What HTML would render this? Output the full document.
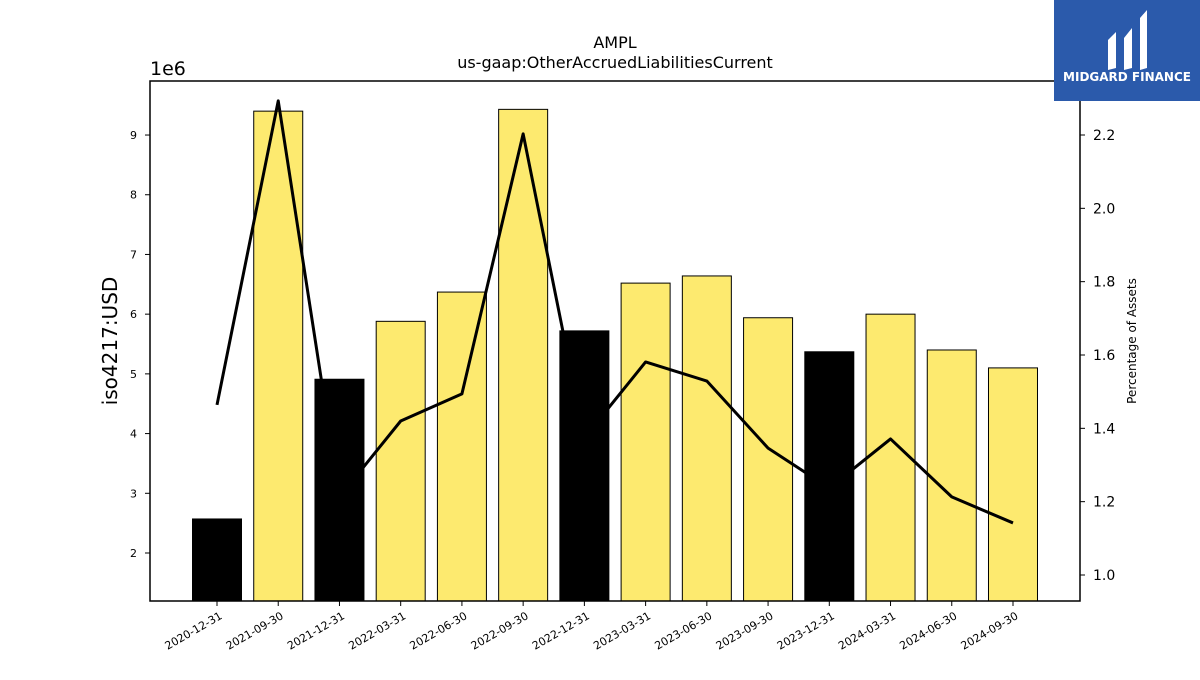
<!DOCTYPE html>
<html><head><meta charset="utf-8"><style>
body{margin:0;background:#fff;font-family:"Liberation Sans","DejaVu Sans",sans-serif}
svg text{font-family:"DejaVu Sans","Liberation Sans",sans-serif}
</style></head><body>
<svg id="chart" width="1200" height="675" viewBox="0 0 1200 675" xmlns="http://www.w3.org/2000/svg">
<rect width="1200" height="675" fill="#fff"/>
<text x="615" y="48" text-anchor="middle" font-size="16">AMPL</text>
<text x="615" y="68" text-anchor="middle" font-size="16">us-gaap:OtherAccruedLiabilitiesCurrent</text>
<text x="150" y="75" font-size="19">1e6</text>
<text transform="translate(117,341) rotate(-90)" text-anchor="middle" font-size="20">iso4217:USD</text>
<text transform="translate(1136,341) rotate(-90)" text-anchor="middle" font-size="12">Percentage of Assets</text>
<g id="bars"></g><g id="line"></g><g id="axes"></g>
<rect x="150" y="81" width="930" height="520" fill="none" stroke="#000" stroke-width="1.5"/>
<g>
<rect x="1054" y="0" width="146" height="101" fill="#2b5aab"/>
<path d="M1108 40 L1116 32 L1116 68 L1108 70 Z M1124 38 L1132 28 L1132 68 L1124 70 Z M1140 18 L1147 10 L1147 68 L1140 70 Z" fill="#fff"/>
<text x="1127" y="81" text-anchor="middle" font-size="12" font-weight="bold" fill="#fff">MIDGARD FINANCE</text>
</g>
</svg>
<script>
const categories=["2020-12-31","2021-09-30","2021-12-31","2022-03-31","2022-06-30","2022-09-30","2022-12-31","2023-03-31","2023-06-30","2023-09-30","2023-12-31","2024-03-31","2024-06-30","2024-09-30"];
const barValues=[2.57,9.40,4.91,5.88,6.37,9.43,5.72,6.52,6.64,5.94,5.37,6.00,5.40,5.10];
const pctValues=[1.464,2.293,1.213,1.420,1.494,2.203,1.374,1.581,1.529,1.346,1.237,1.371,1.213,1.142];
const leftTicks=[2,3,4,5,6,7,8,9];
const rightTicks=[1.0,1.2,1.4,1.6,1.8,2.0,2.2];
const NS="http://www.w3.org/2000/svg";
const x=i=>217+i*61.23;
const yL=v=>553-(v-2)*59.71;
const yR=v=>575-(v-1)*366.67;
function mk(t,a,p){const e=document.createElementNS(NS,t);for(const k in a)e.setAttribute(k,a[k]);p.appendChild(e);return e;}
const bars=document.getElementById('bars'),line=document.getElementById('line'),axes=document.getElementById('axes');
categories.forEach((c,i)=>{
 const annual=c.endsWith('12-31');
 const r=mk('rect',{x:x(i)-24.5,y:yL(barValues[i]),width:49,height:601-yL(barValues[i]),fill:annual?'#000':'#fdea6f',stroke:'#000','stroke-width':1},bars);
 
 
 const tk=mk('line',{x1:x(i),x2:x(i),y1:601,y2:606,stroke:'#000'},axes);
 
 
 const t=mk('text',{transform:`translate(${x(i)+6},${618}) rotate(-30)`,'text-anchor':'end','font-size':11},axes);
 t.textContent=c;
 
 
});
const pl=mk('polyline',{points:pctValues.map((v,i)=>x(i)+','+yR(v)).join(' '),fill:'none',stroke:'#000','stroke-width':3,'stroke-linejoin':'round'},line);


leftTicks.forEach(v=>{
 const l=mk('line',{x1:145,x2:150,y1:yL(v),y2:yL(v),stroke:'#000'},axes);
 
 
 const t=mk('text',{x:137,y:yL(v)+4,'text-anchor':'end','font-size':11},axes);
 t.textContent=v;
 
 
});
rightTicks.forEach(v=>{
 const l=mk('line',{x1:1080,x2:1085,y1:yR(v),y2:yR(v),stroke:'#000'},axes);
 
 
 const t=mk('text',{x:1093,y:yR(v)+5,'font-size':14},axes);
 t.textContent=v.toFixed(1);
 
 
});
</script>
</body></html>
